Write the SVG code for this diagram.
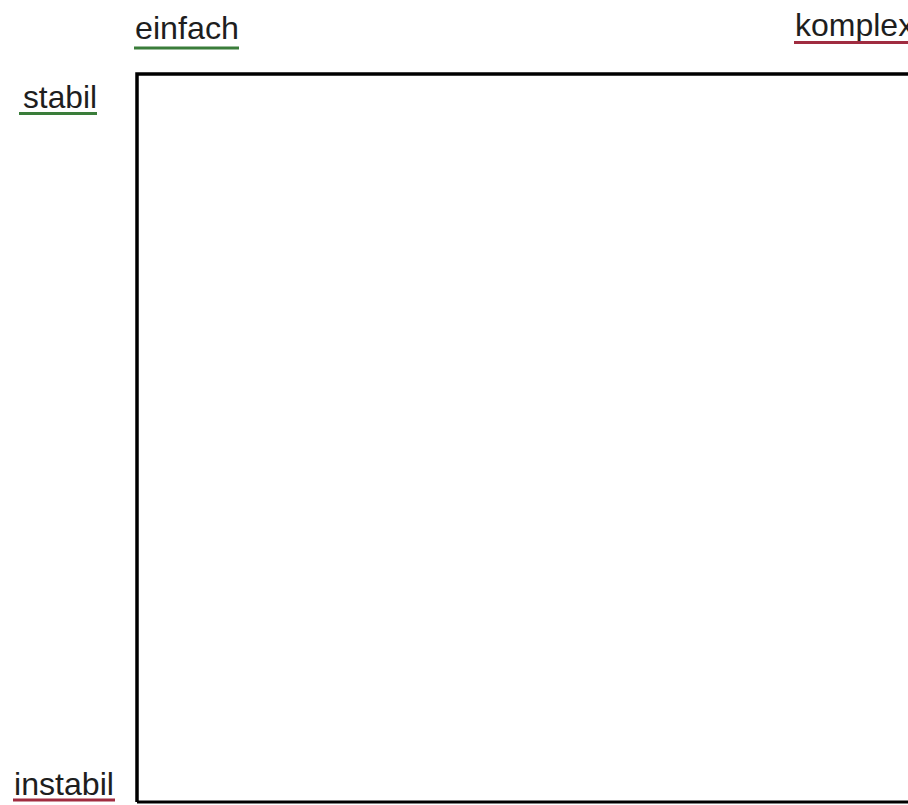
<svg xmlns="http://www.w3.org/2000/svg" width="908" height="805" viewBox="0 0 908 805">
<style>
.lbl{font-family:"Liberation Sans",Arial,sans-serif;font-size:32px;fill:#1e1e1e}
.g{stroke:#3a7d3a;stroke-width:3}
.r{stroke:#a02c40;stroke-width:3}
</style>
<rect width="908" height="805" fill="#ffffff"/>
<g id="box">
<path d="M137,802 V74 H910" fill="none" stroke="#000" stroke-width="3.5"/>
<path d="M137,802 H910" fill="none" stroke="#000" stroke-width="3"/>
</g>
<g id="einfach">
<text class="lbl" x="135" y="39" textLength="104" lengthAdjust="spacingAndGlyphs">einfach</text>
<line class="g" x1="134" y1="48" x2="239" y2="48"/>
</g>
<g id="komplex">
<text class="lbl" x="795" y="36">komplex</text>
<line class="r" x1="794" y1="42.5" x2="908" y2="42.5"/>
</g>
<g id="stabil">
<text class="lbl" x="23" y="108" textLength="74" lengthAdjust="spacingAndGlyphs">stabil</text>
<line class="g" x1="19" y1="113.5" x2="97" y2="113.5"/>
</g>
<g id="instabil">
<text class="lbl" x="14" y="795" textLength="100" lengthAdjust="spacingAndGlyphs">instabil</text>
<line class="r" x1="13" y1="800" x2="115" y2="800"/>
</g>
</svg>
